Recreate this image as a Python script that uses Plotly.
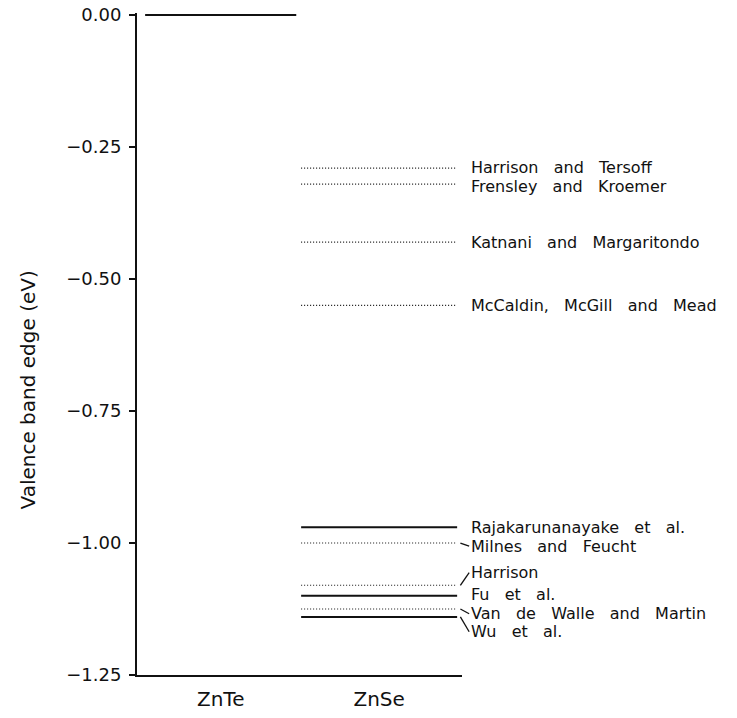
import plotly.graph_objects as go

# Valence band offsets at the ZnTe/ZnSe interface (eV), ZnTe edge taken as zero
materials = ["ZnTe", "ZnSe"]
znte_edge = 0.00

authors = [
    "Harrison and Tersoff",
    "Frensley and Kroemer",
    "Katnani and Margaritondo",
    "McCaldin, McGill and Mead",
    "Rajakarunanayake et al.",
    "Milnes and Feucht",
    "Harrison",
    "Fu et al.",
    "Van de Walle and Martin",
    "Wu et al.",
]
znse_edge = [-0.29, -0.32, -0.43, -0.55, -0.97, -1.00, -1.08, -1.10, -1.125, -1.14]

y_ticks = [0.00, -0.25, -0.50, -0.75, -1.00, -1.25]

# drawing style per author (solid or dotted level)
level_dash = ["dot", "dot", "dot", "dot", "solid", "dot", "dot", "solid", "dot", "solid"]
# vertical position of each author label, and whether a leader joins it to its level
label_y = [-0.288, -0.324, -0.43, -0.55, -0.97, -1.006, -1.056, -1.098, -1.134, -1.168]
leader = [False, False, False, False, False, True, True, False, True, True]

FONT = "DejaVu Sans"
INK = "#111111"

# horizontal extent of each material's column on the x axis
znte_span = (0.025, 0.49)
znse_span = (0.505, 0.985)

fig = go.Figure()

fig.add_trace(go.Scatter(
    x=list(znte_span), y=[znte_edge, znte_edge], mode="lines",
    line=dict(color=INK, width=2), hoverinfo="skip", showlegend=False,
))

for name, e, dash in zip(authors, znse_edge, level_dash):
    if dash == "solid":
        line = dict(color=INK, width=2)
    else:
        line = dict(color=INK, width=1.2, dash="1px,2px")
    fig.add_trace(go.Scatter(
        x=list(znse_span), y=[e, e], mode="lines", name=name,
        line=line, hoverinfo="skip", showlegend=False,
    ))

label_x = 1.026
for name, e, ly, lead in zip(authors, znse_edge, label_y, leader):
    fig.add_annotation(
        x=label_x, y=ly, xref="paper", yref="y",
        text=name.replace(" ", "\u00a0\u00a0\u00a0"),
        showarrow=False, xanchor="left", yanchor="middle", borderpad=0,
        font=dict(family=FONT, size=16, color=INK),
    )
    if lead:
        fig.add_shape(
            type="line", xref="paper", yref="y",
            x0=0.995, y0=e, x1=1.022, y1=ly,
            line=dict(color=INK, width=1.3),
        )

fig.add_annotation(
    x=-0.335, y=0.43, xref="paper", yref="paper",
    text="Valence band edge (eV)", textangle=-90, showarrow=False,
    xanchor="center", yanchor="middle",
    font=dict(family=FONT, size=20, color=INK),
)

fig.update_layout(
    width=737, height=718,
    margin=dict(l=137, r=275, t=13, b=43),
    paper_bgcolor="white", plot_bgcolor="white",
    font=dict(family=FONT, color=INK),
    xaxis=dict(
        range=[0, 1], showgrid=False, zeroline=False, automargin=False,
        showline=True, linecolor=INK, linewidth=2,
        tickvals=[sum(znte_span) / 2, sum(znse_span) / 2], ticktext=materials,
        ticks="", tickfont=dict(family=FONT, size=20, color=INK),
        ticklabelstandoff=5,
    ),
    yaxis=dict(
        range=[-1.25, 0.004], showgrid=False, zeroline=False, automargin=False,
        showline=True, linecolor=INK, linewidth=2,
        tickvals=y_ticks, tickformat=".2f",
        ticks="outside", ticklen=6, tickwidth=1.5, tickcolor=INK,
        tickfont=dict(family=FONT, size=18, color=INK),
        ticklabelstandoff=4,
    ),
)

fig.write_html("out.html")
